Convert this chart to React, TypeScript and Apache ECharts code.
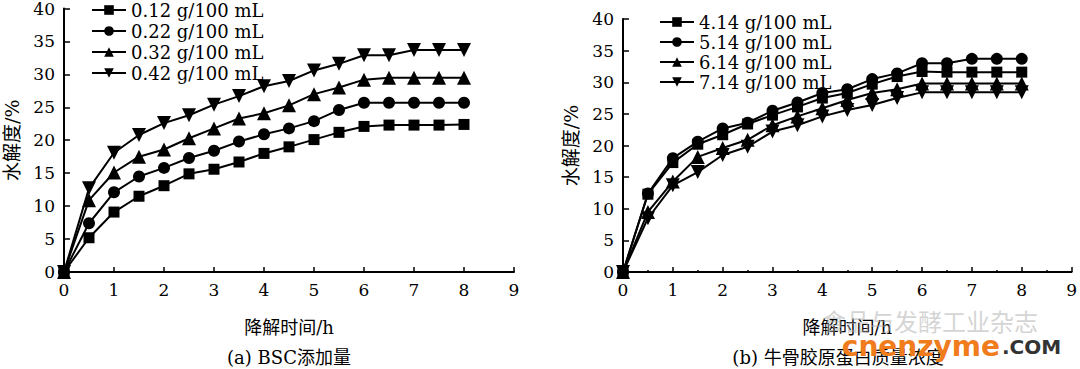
import React, { useEffect, useRef } from "react";
import * as echarts from "echarts";

const times = [0, 0.5, 1, 1.5, 2, 2.5, 3, 3.5, 4, 4.5, 5, 5.5, 6, 6.5, 7, 7.5, 8];

const namesA = ["0.12 g/100 mL", "0.22 g/100 mL", "0.32 g/100 mL", "0.42 g/100 mL"];
const a012 = [0, 5.2, 9.1, 11.5, 13.1, 14.9, 15.6, 16.7, 18.0, 19.0, 20.1, 21.2, 22.1, 22.3, 22.3, 22.3, 22.4];
const a022 = [0, 7.4, 12.1, 14.5, 15.8, 17.3, 18.4, 19.8, 20.9, 21.8, 22.9, 24.6, 25.7, 25.7, 25.7, 25.7, 25.7];
const a032 = [0, 10.9, 15.1, 17.5, 18.6, 20.3, 21.8, 23.3, 24.1, 25.3, 27.0, 28.0, 29.2, 29.5, 29.5, 29.5, 29.5];
const a042 = [0, 12.7, 18.1, 20.8, 22.6, 23.8, 25.4, 26.7, 28.2, 29.0, 30.6, 31.6, 32.9, 32.9, 33.7, 33.7, 33.7];

const namesB = ["4.14 g/100 mL", "5.14 g/100 mL", "6.14 g/100 mL", "7.14 g/100 mL"];
const b414 = [0, 12.3, 17.3, 20.2, 21.7, 23.4, 24.8, 26.1, 27.5, 28.3, 29.7, 30.9, 31.7, 31.6, 31.6, 31.6, 31.6];
const b514 = [0, 12.4, 18.0, 20.6, 22.7, 23.6, 25.5, 26.8, 28.3, 28.9, 30.5, 31.4, 33.0, 33.0, 33.7, 33.7, 33.7];
const b614 = [0, 9.5, 14.3, 18.2, 19.6, 20.9, 23.2, 24.6, 25.9, 27.2, 28.3, 28.9, 29.8, 29.8, 29.8, 29.8, 29.8];
const b714 = [0, 8.5, 13.7, 15.8, 18.5, 19.8, 22.2, 23.2, 24.6, 25.6, 26.4, 27.5, 28.4, 28.4, 28.4, 28.4, 28.4];

const xTicks = [0, 1, 2, 3, 4, 5, 6, 7, 8, 9];
const yTicks = [0, 5, 10, 15, 20, 25, 30, 35, 40];

const xName = "降解时间/h";
const yName = "水解度/%";
const captionA = "(a) BSC添加量";
const captionB = "(b) 牛骨胶原蛋白质量浓度";
const watermarkCn = "食品与发酵工业杂志";
const watermarkEn = "cnenzyme";
const watermarkCom = ".COM";

const symbols = ["rect", "circle", "triangle", "triangle"];
const rotates = [0, 0, 0, 180];
const sizes = [11, 12, 14, 14];

const SERIF = "'DejaVu Serif', 'Noto Sans CJK SC', serif";

function App() {
  const ref = useRef<HTMLDivElement>(null);
  useEffect(() => {
    if (!ref.current) return;
    const chart = echarts.init(ref.current, undefined, { renderer: "svg" });
    const mk = (name: string, vals: number[], i: number, axis: number) => ({
      type: "line",
      name,
      xAxisIndex: axis,
      yAxisIndex: axis,
      data: vals.map((v, k) => [times[k], v]),
      symbol: symbols[i],
      symbolRotate: rotates[i],
      symbolSize: sizes[i],
      showAllSymbol: true,
      lineStyle: { color: "#000", width: 2 },
      itemStyle: { color: "#000" },
      z: 3 + i,
    });
    const xAxisBase = (idx: number, minor: boolean) => ({
      type: "value",
      gridIndex: idx,
      min: xTicks[0],
      max: xTicks[xTicks.length - 1],
      interval: 1,
      name: xName,
      nameLocation: "middle",
      nameGap: 46,
      nameTextStyle: { fontFamily: SERIF, fontSize: 18, color: "#000" },
      axisLine: { lineStyle: { color: "#000", width: 2 } },
      axisTick: { inside: true, length: 5, lineStyle: { color: "#000", width: 1.5 } },
      minorTick: { show: minor, splitNumber: 2, length: 2, lineStyle: { color: "#000", width: 1.5 } },
      axisLabel: { fontFamily: SERIF, fontSize: 17, color: "#000", margin: 9 },
      splitLine: { show: false },
    });
    const yAxisBase = (idx: number) => ({
      type: "value",
      gridIndex: idx,
      min: yTicks[0],
      max: yTicks[yTicks.length - 1],
      interval: 5,
      name: yName,
      nameLocation: "middle",
      nameGap: 43,
      nameRotate: 90,
      nameTextStyle: { fontFamily: SERIF, fontSize: 19, color: "#000" },
      axisLine: { show: true, lineStyle: { color: "#000", width: 2 } },
      axisTick: { show: true, inside: true, length: 6, lineStyle: { color: "#000", width: 1.5 } },
      axisLabel: { fontFamily: SERIF, fontSize: 17, color: "#000", margin: 9 },
      splitLine: { show: false },
    });
    const legendBase = (names: string[], left: number, top: number, gap: number) => ({
      orient: "vertical",
      left,
      top,
      data: names,
      itemWidth: 34,
      itemHeight: 12,
      itemGap: gap,
      textStyle: { fontFamily: SERIF, fontSize: 18, color: "#000", lineHeight: 18 },
      selectedMode: false,
    });
    chart.setOption({
      animation: false,
      backgroundColor: "#fff",
      grid: [
        { left: 64, top: 8, width: 450, height: 264 },
        { left: 623, top: 19, width: 450, height: 253 },
      ],
      xAxis: [xAxisBase(0, false), xAxisBase(1, true)],
      yAxis: [yAxisBase(0), yAxisBase(1)],
      legend: [legendBase(namesA, 86, -4, 3), legendBase(namesB, 654, 8, 2)],
      series: [
        mk(namesA[0], a012, 0, 0),
        mk(namesA[1], a022, 1, 0),
        mk(namesA[2], a032, 2, 0),
        mk(namesA[3], a042, 3, 0),
        mk(namesB[0], b414, 0, 1),
        mk(namesB[1], b514, 1, 1),
        mk(namesB[2], b614, 2, 1),
        mk(namesB[3], b714, 3, 1),
      ],
      graphic: [
        {
          type: "text",
          x: 289,
          y: 357,
          style: { text: captionA, fill: "#000", font: `18px ${SERIF}`, textAlign: "center", textVerticalAlign: "middle" },
        },
        {
          type: "text",
          x: 838,
          y: 357,
          style: { text: captionB, fill: "#000", font: `18px ${SERIF}`, textAlign: "center", textVerticalAlign: "middle" },
        },
        {
          type: "text",
          x: 930,
          y: 320,
          z: 100,
          style: { text: watermarkCn, fill: "rgba(170,170,170,0.5)", font: `24px 'Noto Sans CJK SC', sans-serif`, textAlign: "center", textVerticalAlign: "middle" },
        },
        {
          type: "text",
          x: 1000,
          y: 346,
          z: 100,
          style: { text: watermarkEn, fill: "#f07c1c", font: `bold 28px 'DejaVu Sans', sans-serif`, textAlign: "right", textVerticalAlign: "middle" },
        },
        {
          type: "text",
          x: 1002,
          y: 347,
          z: 100,
          style: { text: watermarkCom, fill: "#333", font: `bold 20px 'DejaVu Sans', sans-serif`, textAlign: "left", textVerticalAlign: "middle" },
        },
      ],
    });
    return () => chart.dispose();
  }, []);
  return (
    <div
      ref={ref}
      style={{ position: "fixed", left: 0, top: 0, width: 1080, height: 369, background: "#fff" }}
    />
  );
}

export default App;
